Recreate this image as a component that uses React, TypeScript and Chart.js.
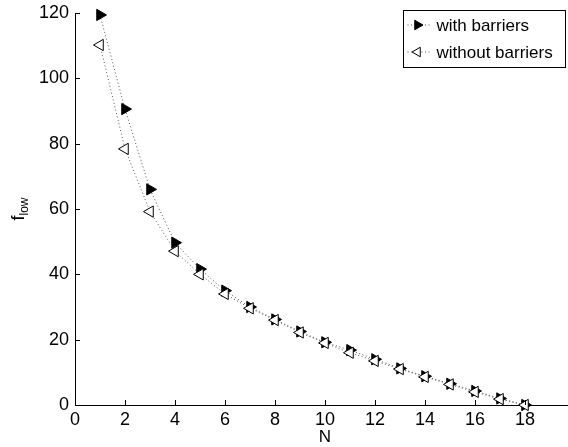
import React, { useEffect, useRef } from "react";
import { Chart, registerables } from "chart.js";

Chart.register(...registerables);

const nValues = [1, 2, 3, 4, 5, 6, 7, 8, 9, 10, 11, 12, 13, 14, 15, 16, 17, 18];
const withBarriers = [119.4, 90.6, 66.0, 49.7, 41.6, 35.0, 30.0, 26.2, 22.5, 19.2, 16.8, 14.0, 11.2, 8.8, 6.5, 4.3, 2.0, 0];
const withoutBarriers = [110.2, 78.4, 59.2, 47.1, 40.0, 34.0, 29.6, 26.0, 22.2, 19.0, 16.0, 13.5, 11.0, 8.6, 6.3, 4.0, 1.8, 0];
const seriesLabels = ["with barriers", "without barriers"];
const xLabel = "N";
const yLabelMain = "f";
const yLabelSub = "low";
const hiddenXTicks = [20];

const FONT = "'Liberation Sans', Arial, Helvetica, sans-serif";
const CW = 600;
const CH = 447;
const AREA = { left: 75, top: 13, right: 575, bottom: 405 };

export default function App() {
  const ref = useRef<HTMLCanvasElement | null>(null);

  useEffect(() => {
    if (!ref.current) return;

    const fixArea = {
      id: "fixArea",
      afterLayout(chart: any) {
        const a = chart.chartArea;
        a.left = AREA.left;
        a.top = AREA.top;
        a.right = AREA.right;
        a.bottom = AREA.bottom;
        a.width = AREA.right - AREA.left;
        a.height = AREA.bottom - AREA.top;
        const xs = chart.scales.x;
        const ys = chart.scales.y;
        xs.left = AREA.left;
        xs.right = AREA.right;
        xs.width = AREA.right - AREA.left;
        xs.top = AREA.bottom;
        xs.bottom = AREA.bottom + 42;
        ys.top = AREA.top;
        ys.bottom = AREA.bottom;
        ys.height = AREA.bottom - AREA.top;
        ys.left = 0;
        ys.right = AREA.left;
        xs.configure();
        ys.configure();
      },
    };

    const inwardTicks = {
      id: "inwardTicks",
      afterDatasetsDraw(chart: any) {
        const ctx = chart.ctx;
        const xs = chart.scales.x;
        const ys = chart.scales.y;
        const a = chart.chartArea;
        ctx.save();
        ctx.strokeStyle = "#000";
        ctx.lineWidth = 1;
        ctx.beginPath();
        xs.ticks.forEach((t: any) => {
          const px = Math.round(xs.getPixelForValue(t.value)) + 0.5;
          ctx.moveTo(px, a.bottom);
          ctx.lineTo(px, a.bottom - 5);
        });
        ys.ticks.forEach((t: any) => {
          const py = Math.round(ys.getPixelForValue(t.value)) + 0.5;
          ctx.moveTo(a.left, py);
          ctx.lineTo(a.left + 5, py);
        });
        ctx.stroke();

        // axis titles
        ctx.fillStyle = "#000";
        ctx.textAlign = "center";
        ctx.textBaseline = "middle";
        ctx.font = `17px ${FONT}`;
        ctx.fillText(xLabel, (a.left + a.right) / 2, 437);

        ctx.translate(18, (a.top + a.bottom) / 2);
        ctx.rotate(-Math.PI / 2);
        ctx.font = `18px ${FONT}`;
        const fw = ctx.measureText(yLabelMain).width;
        ctx.font = `12px ${FONT}`;
        const sw = ctx.measureText(yLabelSub).width;
        const start = -(fw + sw) / 2;
        ctx.textAlign = "left";
        ctx.textBaseline = "alphabetic";
        ctx.font = `18px ${FONT}`;
        ctx.fillText(yLabelMain, start, 6);
        ctx.font = `12px ${FONT}`;
        ctx.fillText(yLabelSub, start + fw, 10);
        ctx.restore();

        // legend
        ctx.save();
        const bx = 403.5, by = 10.5, bw = 162, bh = 57;
        ctx.fillStyle = "#fff";
        ctx.fillRect(bx, by, bw, bh);
        ctx.strokeStyle = "#000";
        ctx.lineWidth = 1;
        ctx.strokeRect(bx, by, bw, bh);
        const rows = [by + 14.5, by + 41.5];
        const ds = chart.data.datasets;
        rows.forEach((ry: number, i: number) => {
          ctx.save();
          ctx.strokeStyle = "#555";
          ctx.setLineDash([1, 2.5]);
          ctx.beginPath();
          ctx.moveTo(bx + 4, ry);
          ctx.lineTo(bx + 28, ry);
          ctx.stroke();
          ctx.restore();
          const d = ds[i];
          ctx.fillStyle = d.pointBackgroundColor;
          ctx.strokeStyle = "#000";
          ctx.lineWidth = 1;
          const r = 5.5;
          const rot = (d.rotation * Math.PI) / 180;
          const cx = bx + 14, cy = ry;
          ctx.beginPath();
          for (let k = 0; k < 3; k++) {
            const ang = rot + (k * 2 * Math.PI) / 3;
            const px = cx + Math.sin(ang) * r;
            const py = cy - Math.cos(ang) * r;
            if (k === 0) ctx.moveTo(px, py);
            else ctx.lineTo(px, py);
          }
          ctx.closePath();
          ctx.fill();
          ctx.stroke();
          ctx.fillStyle = "#000";
          ctx.font = `17px ${FONT}`;
          ctx.textAlign = "left";
          ctx.textBaseline = "middle";
          ctx.fillText(seriesLabels[i], bx + 33, ry + 1);
        });
        ctx.restore();
      },
    };

    const chart = new Chart(ref.current, {
      type: "line",
      data: {
        datasets: [
          {
            label: seriesLabels[0],
            data: nValues.map((n, i) => ({ x: n, y: withBarriers[i] })),
            borderColor: "#555",
            borderWidth: 1,
            borderDash: [1, 2.5],
            pointStyle: "triangle",
            rotation: 90,
            pointRadius: 6.5,
            pointBackgroundColor: "#000",
            pointBorderColor: "#000",
            pointBorderWidth: 1,
            tension: 0,
            clip: false as any,
            order: 1,
          } as any,
          {
            label: seriesLabels[1],
            data: nValues.map((n, i) => ({ x: n, y: withoutBarriers[i] })),
            borderColor: "#555",
            borderWidth: 1,
            borderDash: [1, 2.5],
            pointStyle: "triangle",
            rotation: -90,
            pointRadius: 6.5,
            pointBackgroundColor: "#fff",
            pointBorderColor: "#000",
            pointBorderWidth: 1,
            tension: 0,
            clip: false as any,
            order: 0,
          } as any,
        ],
      },
      options: {
        responsive: false,
        animation: false,
        events: [],
        layout: { padding: { top: 13, right: CW - 575, left: 0, bottom: 0 } },
        plugins: { legend: { display: false }, tooltip: { enabled: false }, title: { display: false } },
        scales: {
          x: {
            type: "linear",
            min: 0,
            max: 20,
            afterFit: (s: any) => {
              s.height = 42;
            },
            ticks: {
              stepSize: 2,
              color: "#000",
              font: { family: FONT, size: 18 },
              padding: 4,
              maxRotation: 0,
              callback: (v: any) => (hiddenXTicks.includes(Number(v)) ? "" : String(v)),
            },
            grid: { display: true, drawOnChartArea: false, drawTicks: false },
            border: { display: true, color: "#000", width: 1 },
          },
          y: {
            type: "linear",
            min: 0,
            max: 120,
            afterFit: (s: any) => {
              s.width = 75;
            },
            ticks: {
              stepSize: 20,
              color: "#000",
              font: { family: FONT, size: 18 },
              padding: 6,
            },
            grid: { display: true, drawOnChartArea: false, drawTicks: false },
            border: { display: true, color: "#000", width: 1 },
          },
        },
      },
      plugins: [fixArea, inwardTicks],
    } as any);

    return () => chart.destroy();
  }, []);

  return (
    <div
      style={{
        position: "fixed",
        left: 0,
        top: 0,
        width: 568,
        height: 447,
        overflow: "hidden",
        background: "#fff",
      }}
    >
      <canvas ref={ref} width={CW} height={CH} style={{ width: CW, height: CH, display: "block" }} />
    </div>
  );
}
